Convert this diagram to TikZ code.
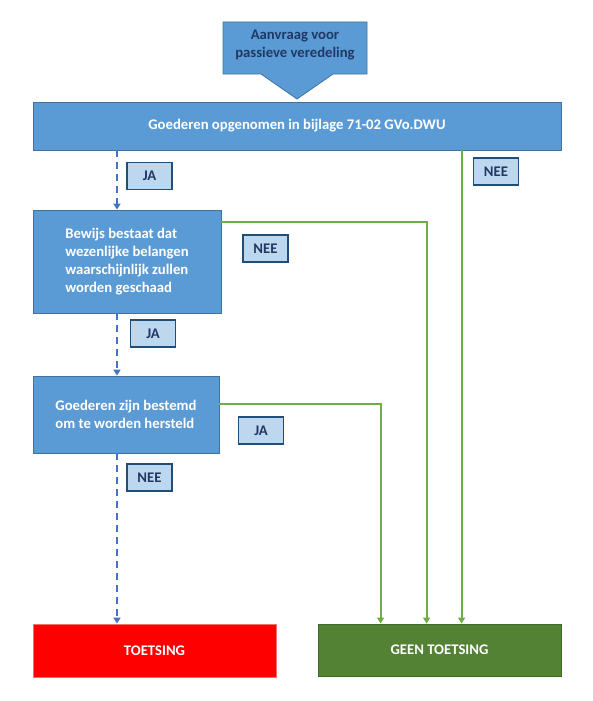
\documentclass[tikz,border=0pt]{standalone}
\usepackage{fontspec}
\setmainfont{Carlito}
\usetikzlibrary{arrows.meta}
\definecolor{boxblue}{HTML}{5B9BD5}
\definecolor{boxedge}{HTML}{41719C}
\definecolor{lblfill}{HTML}{BDD7EE}
\definecolor{lbledge}{HTML}{1F4E79}
\definecolor{navy}{HTML}{1F3864}
\definecolor{lgreen}{HTML}{70AD47}
\definecolor{dgreen}{HTML}{548235}
\definecolor{dgedge}{HTML}{3E6B27}
\definecolor{dashblue}{HTML}{4472C4}
\definecolor{rededge}{HTML}{F07070}
\begin{document}
\begin{tikzpicture}[x=1pt,y=-1pt,
  txtfont/.style={font=\bfseries\fontsize{14.7pt}{17.8pt}\selectfont},
  proc/.style={draw=boxedge, line width=0.8pt, fill=boxblue, text=white, txtfont, inner sep=0pt, align=left},
  lbl/.style={draw=lbledge, line width=1.6pt, fill=lblfill, text=navy, txtfont, minimum width=45pt, minimum height=27pt, inner sep=0pt},
  dashline/.style={dashblue, line width=1.8pt, dash pattern=on 7pt off 5pt, -{Triangle[width=7pt,length=6pt]}},
  gline/.style={lgreen, line width=1.8pt, -{Triangle[width=7pt,length=6pt]}}
]
\useasboundingbox (0,0) rectangle (593,701);
% callout arrow
\filldraw[draw=boxedge, line width=0.8pt, fill=boxblue] (223,22) -- (367,22) -- (367,74) -- (333,74) -- (297,99) -- (261,74) -- (223,74) -- cycle;
\node[txtfont, text=navy, align=center, inner sep=0pt] (req) at (295,45) {Aanvraag voor\\passieve veredeling};

\node[proc, align=center, minimum width=528pt, minimum height=48pt] (main) at (297,126) {Goederen opgenomen in bijlage 71-02 GVo.DWU};
\node[proc, minimum width=188pt, minimum height=103pt] (b2) at (127,261.5) {Bewijs bestaat dat\\wezenlijke belangen\\waarschijnlijk zullen\\worden geschaad};
\node[proc, minimum width=186pt, minimum height=77pt] (b3) at (126,414.5) {Goederen zijn bestemd\\om te worden hersteld};
\node[draw=rededge, line width=0.8pt, fill=red, text=white, txtfont, minimum width=243pt, minimum height=53pt, inner sep=0pt] (toets) at (154.5,650.5) {TOETSING};
\node[draw=dgedge, line width=0.8pt, fill=dgreen, text=white, txtfont, minimum width=243pt, minimum height=52pt, inner sep=0pt] (geen) at (439.5,650) {GEEN TOETSING};

\node[lbl] (ja1) at (149.5,176) {JA};
\node[lbl] (nee1) at (496,171.5) {NEE};
\node[lbl] (nee2) at (265.5,248.5) {NEE};
\node[lbl] (ja2) at (153,333.5) {JA};
\node[lbl] (ja3) at (261,430.5) {JA};
\node[lbl] (nee3) at (149.5,477.5) {NEE};

\coordinate (d) at (117,0);
\draw[dashline] (main.south -| d) -- (b2.north -| d);
\draw[dashline] (b2.south -| d) -- (b3.north -| d);
\draw[dashline] (b3.south -| d) -- (toets.north -| d);

\coordinate (g1) at ([xshift=63pt]geen.north west);
\coordinate (g2) at ([xshift=109pt]geen.north west);
\coordinate (g3) at ([xshift=144pt]geen.north west);
\draw[gline] ([yshift=-12pt]b2.north east) -| (g2);
\draw[gline] ([yshift=-28pt]b3.north east) -| (g1);
\draw[gline] (main.south -| g3) -- (g3);
\end{tikzpicture}
\end{document}
